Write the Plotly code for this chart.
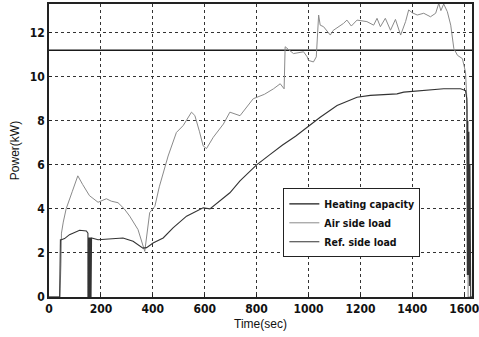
import plotly.graph_objects as go

# Heating capacity (constant)
heat_t = [0, 1630]
heat_p = [11.2, 11.2]

# Air side load
air_t = [0, 42, 46, 48, 55, 66, 90, 111, 130, 156, 189, 221, 240, 266, 290, 311, 343, 369, 388, 408, 425, 440,
         459, 491, 517, 549, 562, 580, 594, 607, 633, 672, 691, 697, 736, 787, 830, 865, 891, 902, 906, 910,
         925, 942, 981, 995, 1000, 1019, 1030, 1039, 1045, 1058, 1084, 1095, 1135, 1148, 1165, 1187, 1225,
         1251, 1264, 1277, 1296, 1316, 1335, 1355, 1374, 1386, 1400, 1419, 1444, 1470, 1490, 1502, 1510,
         1521, 1535, 1548, 1560, 1574, 1593, 1605, 1612, 1615, 1630]
air_p = [0, 0, 1.5, 2.9, 3.4, 4.0, 4.8, 5.5, 5.1, 4.6, 4.3, 4.46, 4.35, 4.28, 4.0, 3.67, 3.06, 2.07, 3.83, 4.12, 5.0, 5.65,
         6.4, 7.47, 7.78, 8.39, 8.24, 7.5, 6.86, 6.74, 7.25, 7.85, 8.31, 8.39, 8.23, 9.0, 9.2, 9.45, 9.68, 9.5, 9.45, 11.36,
         11.2, 11.05, 11.13, 10.9, 10.74, 10.67, 10.9, 12.8, 12.34, 12.27, 11.89, 12.1, 12.42, 12.57, 12.3, 12.57, 12.5,
         12.34, 12.65, 12.27, 12.65, 12.11, 12.6, 11.89, 12.5, 13.03, 12.9, 12.8, 12.88, 12.72, 12.88, 13.33, 13.0,
         13.3, 12.95, 12.34, 11.28, 10.97, 10.82, 10.21, 8.54, 0, 0]

# Ref. side load
ref_t = [0, 41, 44, 48, 60, 79, 118, 144, 150, 150, 152, 154, 156, 158, 160, 162, 164, 165, 189, 240, 285, 324, 362, 376,
         401, 440, 478, 530, 594, 620, 659, 697, 736, 800, 850, 900, 950, 994, 1045, 1110, 1187, 1238, 1290, 1341,
         1367, 1432, 1480, 1521, 1586, 1605, 1610, 1612, 1614, 1616, 1618, 1620, 1622, 1625, 1630]
ref_p = [0, 0, 2.6, 2.6, 2.65, 2.83, 3.03, 3.0, 2.9, 0, 2.7, 0, 2.7, 0, 2.7, 0, 2.7, 2.68, 2.6, 2.63, 2.68, 2.53, 2.22, 2.24,
         2.45, 2.68, 3.14, 3.67, 4.05, 4.0, 4.35, 4.73, 5.27, 6.0, 6.45, 6.9, 7.3, 7.7, 8.16, 8.69, 9.07, 9.15, 9.18, 9.22,
         9.3, 9.37, 9.4, 9.45, 9.45, 9.37, 9.0, 1.0, 8.0, 1.0, 7.5, 0.5, 6.0, 0, 0]

x_ticks = [0, 200, 400, 600, 800, 1000, 1200, 1400, 1600]
y_ticks = [0, 2, 4, 6, 8, 10, 12]

fig = go.Figure()
fig.add_trace(go.Scatter(x=heat_t, y=heat_p, mode="lines", name="Heating capacity",
                         line=dict(color="#1a1a1a", width=1.3)))
fig.add_trace(go.Scatter(x=air_t, y=air_p, mode="lines", name="Air side load",
                         line=dict(color="#8a8a8a", width=1)))
fig.add_trace(go.Scatter(x=ref_t, y=ref_p, mode="lines", name="Ref. side load",
                         line=dict(color="#333333", width=1.1)))

cond = "DejaVu Sans Condensed, Liberation Sans Narrow, sans-serif"
tickfont = dict(family=cond, size=12, color="#111", weight="bold")
titlefont = dict(family="Liberation Sans, Arial, sans-serif", size=12, color="#111")

fig.update_layout(
    width=479, height=337,
    margin=dict(l=49, r=7, t=4, b=40, autoexpand=False),
    paper_bgcolor="white", plot_bgcolor="white",
    showlegend=True,
    legend=dict(x=0.554, y=0.371, xanchor="left", yanchor="top",
                bgcolor="white", bordercolor="#222", borderwidth=1,
                font=dict(family=cond, size=10.5, color="#111", weight="bold"),
                itemwidth=30, tracegroupgap=0),
    xaxis=dict(range=[0, 1630], tickvals=x_ticks, ticktext=[str(v) for v in x_ticks],
               showgrid=True, gridcolor="#333", griddash="dot", gridwidth=1,
               showline=True, linecolor="#222", linewidth=1.5, mirror=True,
               ticks="inside", ticklen=3, tickcolor="#222", automargin=False,
               ticklabeloverflow="allow",
               tickfont=tickfont, zeroline=False,
               title=dict(text="Time(sec)", font=titlefont, standoff=4)),
    yaxis=dict(range=[0, 13.3], tickvals=y_ticks, ticktext=[str(v) for v in y_ticks],
               showgrid=True, gridcolor="#333", griddash="dot", gridwidth=1,
               showline=True, linecolor="#222", linewidth=1.5, mirror=True,
               ticks="inside", ticklen=3, tickcolor="#222", automargin=False,
               ticklabeloverflow="allow",
               tickfont=tickfont, zeroline=False,
               title=dict(text="Power(kW)", font=titlefont, standoff=8)),
)

fig.write_html("out.html", config={"displayModeBar": False},
               post_script="document.body.style.margin='0';document.body.style.padding='0';document.body.style.overflow='hidden';")
